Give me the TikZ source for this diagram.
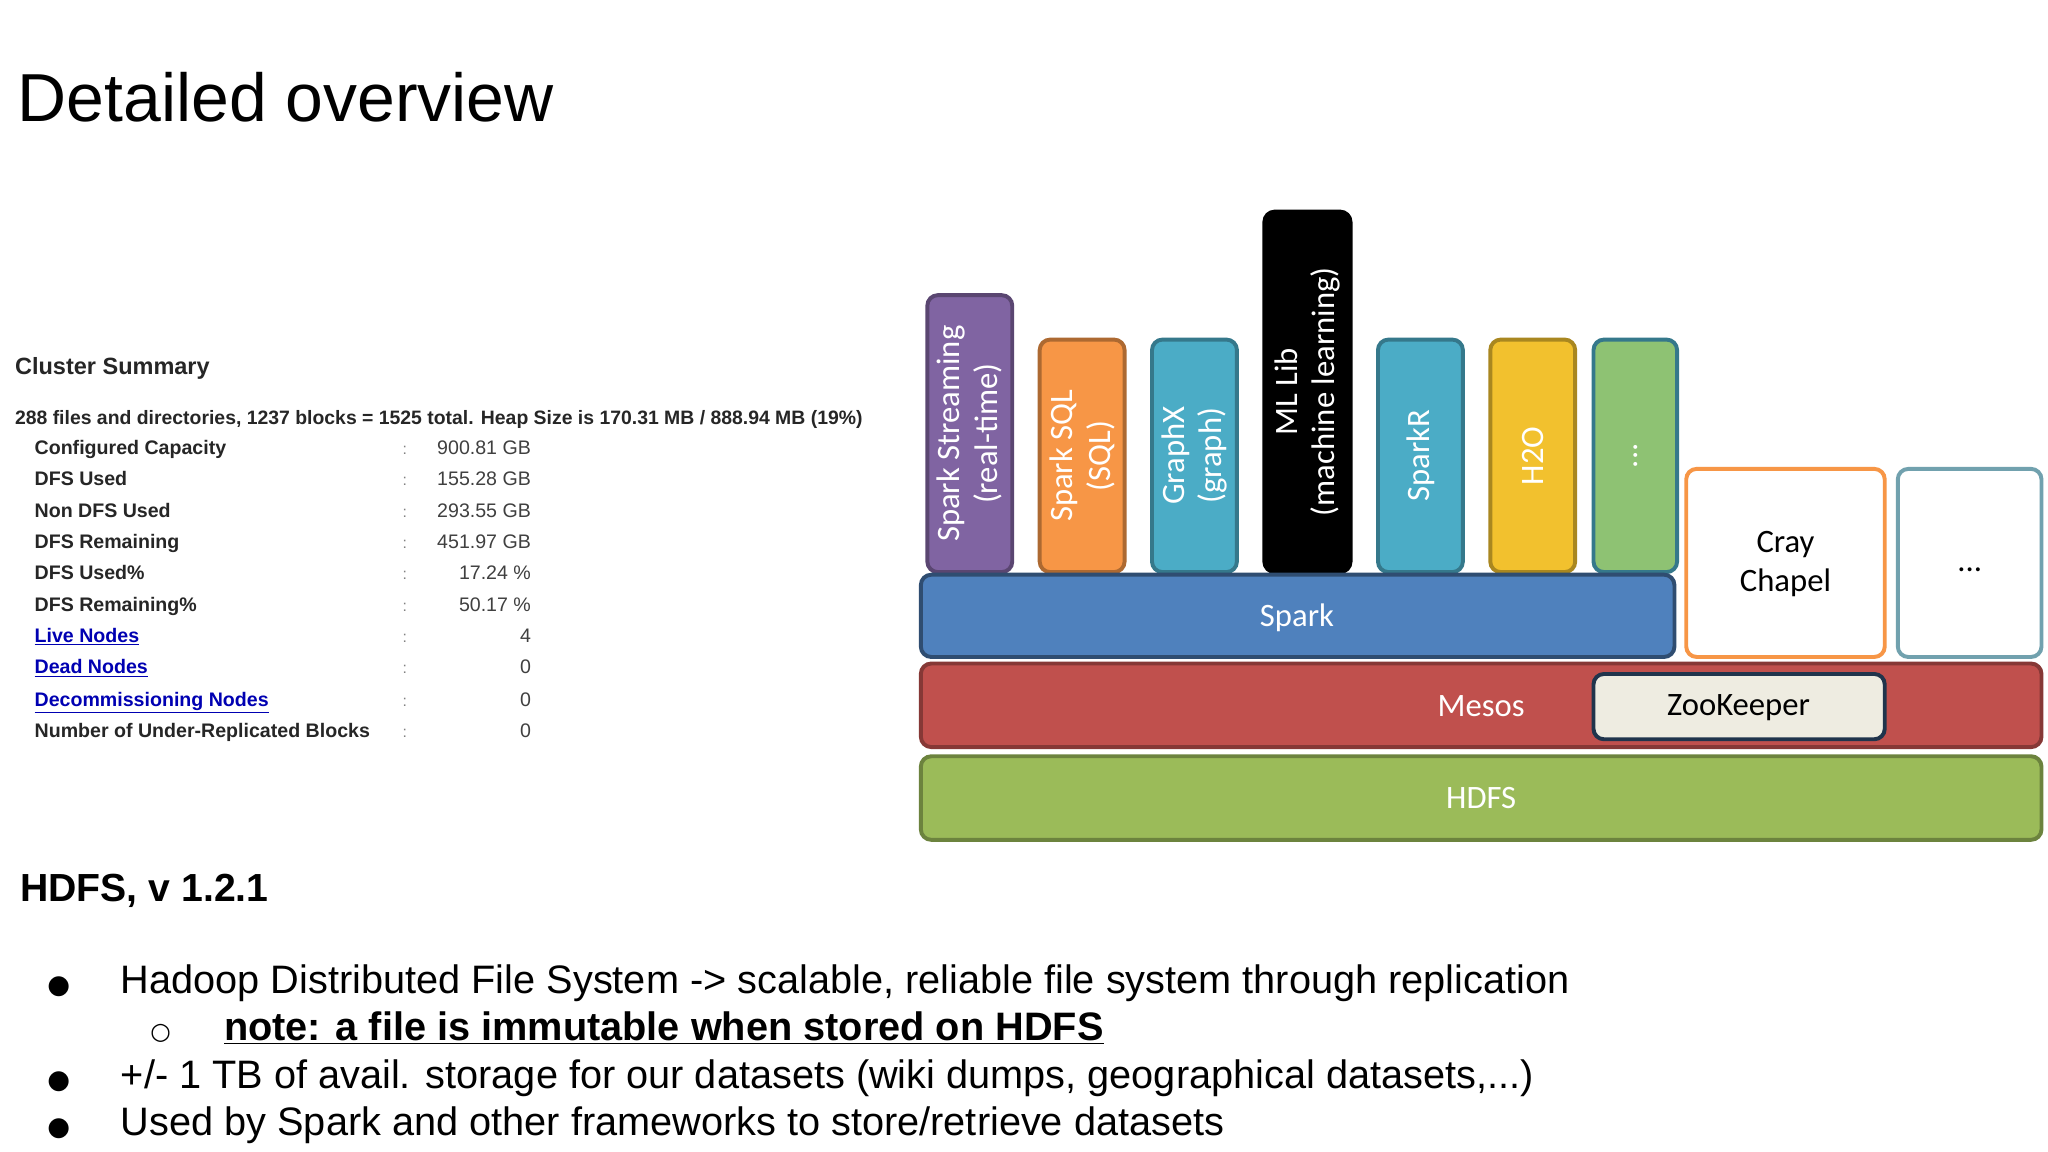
\documentclass[tikz,border=0pt]{standalone}
\usepackage{fontspec}
\setmainfont{Liberation Sans}
\newfontfamily\carfont{Carlito}
\newfontfamily\djfont{DejaVu Sans}
\begin{document}
\begin{tikzpicture}[x=1pt,y=-1pt,
  blk/.style={draw,line width=3pt,rounded corners=8pt},
  vt/.style={rotate=90,font=\carfont\fontsize{25}{29}\selectfont,text=white,align=center},
  ht/.style={font=\carfont\fontsize{25}{30}\selectfont,text=white,align=center},
  lab/.style={anchor=base west,font=\bfseries\fontsize{15}{17}\selectfont,text=black!85},
  val/.style={anchor=base east,font=\fontsize{15}{17}\selectfont,text=black!75},
  colo/.style={anchor=base,font=\fontsize{12}{14}\selectfont,text=black!50},
  bul/.style={anchor=base west,font=\fontsize{30.4}{32}\selectfont},
  dot/.style={anchor=base,font=\djfont\fontsize{20}{24}\selectfont}]
\useasboundingbox (0,0) rectangle (1568,882);
\fill[white] (0,0) rectangle (1568,882);
\definecolor{cpur}{HTML}{8064A2}\definecolor{corg}{HTML}{F79646}
\definecolor{cteal}{HTML}{4BACC6}\definecolor{cyel}{HTML}{F2C12E}
\definecolor{cgrn}{HTML}{8EC273}\definecolor{cblu}{HTML}{4F81BD}
\definecolor{cred}{HTML}{C0504D}\definecolor{chd}{HTML}{9BBB59}
\definecolor{czk}{HTML}{EEECE1}
\node[anchor=base west,font=\fontsize{52}{56}\selectfont] (title) at (10,93) {Detailed overview};
\node[anchor=base west,font=\bfseries\fontsize{18}{20}\selectfont,text=black!85] (cs) at (8,287) {Cluster Summary};
\node[anchor=base west,font=\bfseries\fontsize{14.85}{17}\selectfont,text=black!85] (files) at (8,325) {288 files and directories, 1237 blocks = 1525 total. Heap Size is 170.31 MB / 888.94 MB (19\%)};
\foreach \l/\v/\y [count=\i] in {Configured Capacity/900.81 GB/348,DFS Used/155.28 GB/372,Non DFS Used/293.55 GB/396,DFS Remaining/451.97 GB/420,DFS Used\%/17.24 \%/444,DFS Remaining\%/50.17 \%/468}{
  \node[lab] (l\i) at (23,\y) {\l};
  \node[colo] (c\i) at (310,\y) {:};
  \node[val] (v\i) at (410,\y) {\v};}
\foreach \l/\v/\y [count=\i from 7] in {Live Nodes/4/492,Dead Nodes/0/516,Decommissioning Nodes/0/541}{
  \node[lab,text=blue!70!black] (l\i) at (23,\y) {\underline{\l}};
  \node[colo] (c\i) at (310,\y) {:};
  \node[val] (v\i) at (410,\y) {\v};}
\node[lab] (l10) at (23,565) {Number of Under-Replicated Blocks};
\node[colo] (c10) at (310,565) {:};
\node[val] (v10) at (410,565) {0};
\node[anchor=base west,font=\bfseries\fontsize{30}{32}\selectfont] (hv) at (12,690) {HDFS, v 1.2.1};
\node[dot] (b1) at (45,761) {●};
\node[bul] (t1) at (89,761) {Hadoop Distributed File System -> scalable, reliable file system through replication};
\node[dot,font=\djfont\fontsize{18}{24}\selectfont] (b2) at (123,796) {○};
\node[bul,font=\bfseries\fontsize{30.4}{32}\selectfont] (t2) at (168,797) {\underline{note: a file is immutable when stored on HDFS}};
\node[dot] (b3) at (45,833) {●};
\node[bul] (t3) at (89,833) {+/- 1 TB of avail. storage for our datasets (wiki dumps, geographical datasets,...)};
\node[dot] (b4) at (45,869) {●};
\node[bul] (t4) at (89,869) {Used by Spark and other frameworks to store/retrieve datasets};
% stack
\draw[blk,fill=cpur,draw=cpur!70!black] (710,226) rectangle (775,438);
\node[vt] (ss) at (742.5,332) {Spark Streaming\\(real-time)};
\draw[blk,fill=corg,draw=corg!70!black] (796,260) rectangle (861,438);
\node[vt] (sql) at (828.5,349) {Spark SQL\\(SQL)};
\draw[blk,fill=cteal,draw=cteal!70!black] (882,260) rectangle (947,438);
\node[vt] (gx) at (914.5,349) {GraphX\\(graph)};
\draw[blk,fill=black,draw=black] (968,162) rectangle (1034,438);
\node[vt] (ml) at (1001,300) {ML Lib\\(machine learning)};
\draw[blk,fill=cteal,draw=cteal!70!black] (1055,260) rectangle (1120,438);
\node[vt] (sr) at (1087.5,349) {SparkR};
\draw[blk,fill=cyel,draw=cyel!70!black] (1141,260) rectangle (1206,438);
\node[vt] (h2o) at (1173.5,349) {H2O};
\draw[blk,fill=cgrn,draw=cteal!70!black] (1220,260) rectangle (1284,438);
\node[vt] (dd) at (1252,349) {...};
\draw[blk,fill=cblu,draw=cblu!60!black] (705,440) rectangle (1282,503);
\node[ht] (spark) at (993,473) {Spark};
\draw[blk,fill=white,draw=corg] (1291,359) rectangle (1443,503);
\node[ht,text=black] (cray) at (1367,432) {Cray\\Chapel};
\draw[blk,fill=white,draw=cteal!70!black!70] (1453,359) rectangle (1563,503);
\node[ht,text=black] (dots) at (1508,436) {...};
\draw[blk,fill=cred,draw=cred!70!black] (705,508) rectangle (1563,572);
\node[ht] (mesos) at (1134,541) {Mesos};
\draw[blk,fill=czk,draw=cblu!40!black] (1220,516) rectangle (1443,566);
\node[ht,text=black] (zk) at (1331,542) {ZooKeeper};
\draw[blk,fill=chd,draw=chd!70!black] (705,579) rectangle (1563,643);
\node[ht] (hdfs) at (1134,611) {HDFS};
\end{tikzpicture}
\end{document}
